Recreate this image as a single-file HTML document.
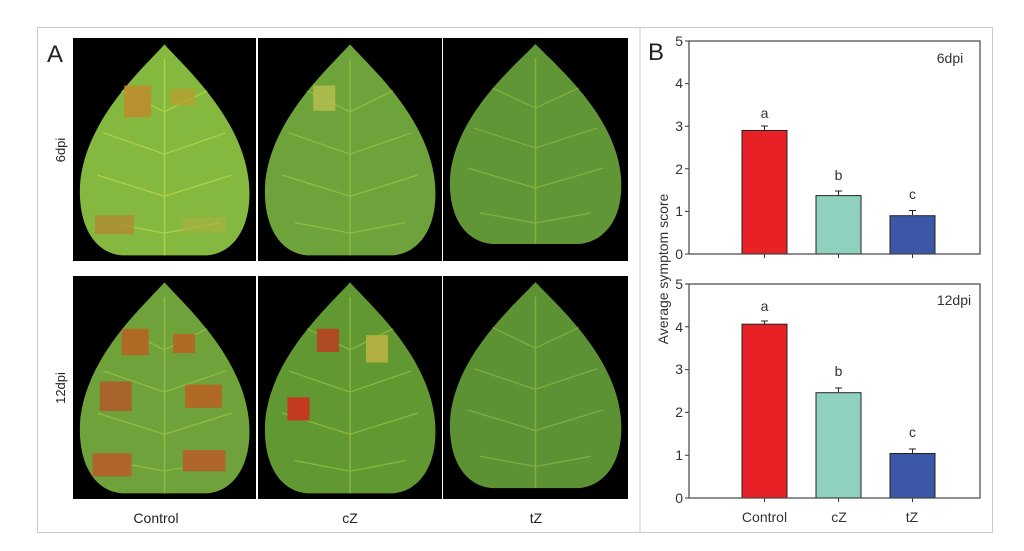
<!DOCTYPE html>
<html><head><meta charset="utf-8"><style>
html,body{margin:0;padding:0;background:#fff;}
svg{display:block;font-family:"Liberation Sans",sans-serif;}
</style></head><body>
<svg width="1024" height="551" viewBox="0 0 1024 551" xmlns="http://www.w3.org/2000/svg">
<defs>
<g id="leaf">
<path d="M75,6 C92,28 138,75 144,135 C148,178 132,204 110,206 L40,206 C18,204 3,178 6,135 C12,75 58,28 75,6 Z"/>
</g>
<g id="veins" stroke="#b8d84a" stroke-width="1.2" fill="none" opacity="0.8">
<path d="M75,20 L75,206"/>
<path d="M75,70 L40,50 M75,70 L110,50 M75,110 L25,90 M75,110 L125,90 M75,150 L20,130 M75,150 L130,130 M75,185 L30,175 M75,185 L120,175"/>
</g>
</defs>
<rect x="37.5" y="27.5" width="955" height="505" fill="none" stroke="#ccc"/>
<line x1="640" y1="27" x2="640" y2="533" stroke="#ccc"/>
<text x="47" y="62" font-size="24" fill="#222">A</text>
<text transform="translate(65,150) rotate(-90)" font-size="13" text-anchor="middle" fill="#222">6dpi</text>
<text transform="translate(65,388) rotate(-90)" font-size="13" text-anchor="middle" fill="#222">12dpi</text>

<!-- row1 -->
<g transform="translate(73,38)"><rect width="183" height="223" fill="#000"/>
<g transform="scale(1.22,1.055)">
<use href="#leaf" fill="#84b83e"/><use href="#veins"/>
<rect x="42" y="45" width="22" height="30" fill="#c08a2a" opacity="0.85"/>
<rect x="80" y="48" width="20" height="16" fill="#b8a030" opacity="0.8"/>
<rect x="18" y="168" width="32" height="18" fill="#b08a30" opacity="0.8"/>
<rect x="90" y="170" width="35" height="14" fill="#a8b040" opacity="0.7"/></g></g>
<g transform="translate(258,38)"><rect width="184" height="223" fill="#000"/>
<g transform="scale(1.227,1.055)">
<use href="#leaf" fill="#6ea23a"/><use href="#veins" opacity="0.6"/>
<rect x="45" y="45" width="18" height="24" fill="#b8c050" opacity="0.8"/></g></g>
<g transform="translate(443,38)"><rect width="185" height="223" fill="#000"/>
<g transform="scale(1.233,1.0)">
<use href="#leaf" fill="#619636"/><use href="#veins" opacity="0.5"/></g></g>
<!-- row2 -->
<g transform="translate(73,276)"><rect width="183" height="223" fill="#000"/>
<g transform="scale(1.22,1.055)">
<use href="#leaf" fill="#6fa23a"/><use href="#veins" opacity="0.6"/>
<rect x="40" y="50" width="22" height="25" fill="#b06a25"/>
<rect x="82" y="55" width="18" height="18" fill="#b06a25"/>
<rect x="22" y="100" width="26" height="28" fill="#a8642a"/>
<rect x="92" y="103" width="30" height="22" fill="#b06a25"/>
<rect x="16" y="168" width="32" height="22" fill="#b0652a"/>
<rect x="90" y="165" width="35" height="20" fill="#b0652a"/></g></g>
<g transform="translate(258,276)"><rect width="184" height="223" fill="#000"/>
<g transform="scale(1.227,1.055)">
<use href="#leaf" fill="#619832"/><use href="#veins" opacity="0.6"/>
<rect x="48" y="50" width="18" height="22" fill="#b04a22"/>
<rect x="88" y="56" width="18" height="26" fill="#b0b040"/>
<rect x="24" y="115" width="18" height="22" fill="#c23a20"/></g></g>
<g transform="translate(443,276)"><rect width="185" height="223" fill="#000"/>
<g transform="scale(1.233,1.03)">
<use href="#leaf" fill="#5d9234"/><use href="#veins" opacity="0.5"/></g></g>

<text x="156" y="523" font-size="14" text-anchor="middle" fill="#222">Control</text>
<text x="350" y="523" font-size="14" text-anchor="middle" fill="#222">cZ</text>
<text x="536" y="523" font-size="14" text-anchor="middle" fill="#222">tZ</text>

<!-- B -->
<text x="648" y="60" font-size="24" fill="#222">B</text>
<text transform="translate(668,269) rotate(-90)" font-size="14" text-anchor="middle" fill="#333">Average symptom score</text>
<g font-size="14" fill="#333" text-anchor="end">
<text x="683" y="259">0</text><text x="683" y="216">1</text><text x="683" y="174">2</text><text x="683" y="131">3</text><text x="683" y="88">4</text><text x="683" y="46">5</text>
<text x="683" y="503">0</text><text x="683" y="460">1</text><text x="683" y="417">2</text><text x="683" y="374">3</text><text x="683" y="332">4</text><text x="683" y="289">5</text>
</g>
<g stroke="#333" stroke-width="1">
<path d="M685,254H689M685,211.4H689M685,168.8H689M685,126.2H689M685,83.6H689M685,41H689"/>
<path d="M685,498H689M685,455.2H689M685,412.4H689M685,369.6H689M685,326.8H689M685,284H689"/>
<path d="M764.5,254v4M838.5,254v4M912.5,254v4M764.5,498v4M838.5,498v4M912.5,498v4"/>
</g>
<g stroke="#222" stroke-width="1">
<rect x="742" y="130.5" width="45" height="123.5" fill="#e82127"/>
<rect x="816" y="195.6" width="45" height="58.4" fill="#8fd0bf"/>
<rect x="890" y="215.7" width="45" height="38.3" fill="#3c57a6"/>
<path d="M764.5,130V126M761,126H768M838.5,195V191M835,191H842M912.5,215V210.5M909,210.5H916"/>
<rect x="742" y="324.2" width="45" height="173.8" fill="#e82127"/>
<rect x="816" y="392.7" width="45" height="105.3" fill="#8fd0bf"/>
<rect x="890" y="453.5" width="45" height="44.5" fill="#3c57a6"/>
<path d="M764.5,324V321M761,321H768M838.5,392V388M835,388H842M912.5,453V449M909,449H916"/>
</g>
<rect x="689" y="41" width="291" height="213" fill="none" stroke="#444" stroke-width="1.2"/>
<rect x="689" y="284" width="291" height="214" fill="none" stroke="#444" stroke-width="1.2"/>
<g font-size="14" fill="#333" text-anchor="middle">
<text x="764.5" y="118">a</text><text x="838.5" y="180">b</text><text x="912.5" y="199">c</text>
<text x="764.5" y="311">a</text><text x="838.5" y="376">b</text><text x="912.5" y="437">c</text>
<text x="950" y="63">6dpi</text><text x="954" y="305">12dpi</text>
<text x="764.5" y="522">Control</text><text x="839" y="522">cZ</text><text x="912" y="522">tZ</text>
</g>
</svg>
</body></html>
